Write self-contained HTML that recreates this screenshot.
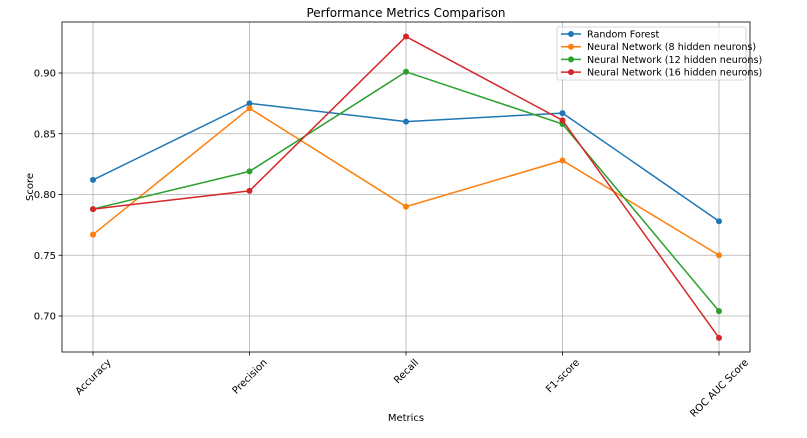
<!DOCTYPE html>
<html><head><meta charset="utf-8"><style>
body{margin:0;background:#fff;}
svg{font-family:"DejaVu Sans","Liberation Sans",sans-serif;}
</style></head><body>
<svg id="c" width="807" height="433"></svg>
<script>
const categories=["Accuracy","Precision","Recall","F1-score","ROC AUC Score"];
const seriesNames=["Random Forest","Neural Network (8 hidden neurons)","Neural Network (12 hidden neurons)","Neural Network (16 hidden neurons)"];
const rf=[0.812,0.875,0.860,0.867,0.778];
const nn8=[0.767,0.871,0.790,0.828,0.750];
const nn12=[0.788,0.819,0.901,0.858,0.704];
const nn16=[0.788,0.803,0.930,0.861,0.682];
const yTicks=[0.70,0.75,0.80,0.85,0.90];
const series=[rf,nn8,nn12,nn16];
const colors=["#1f77b4","#ff7f0e","#2ca02c","#d62728"];
const NS="http://www.w3.org/2000/svg";
const svg=document.getElementById('c');
const L=62,R=750,T=22,B=352;
const x=i=>93+i*(719-93)/(categories.length-1);
const y=v=>73+(0.90-v)/0.05*60.75;
function mk(t,a,p){const e=document.createElementNS(NS,t);for(const k in a)e.setAttribute(k,a[k]);(p||svg).appendChild(e);return e;}
yTicks.forEach(v=>{
 const g=mk('line',{x1:L,x2:R,y1:y(v),y2:y(v),stroke:'#b0b0b0','stroke-width':0.8});
 
 
 const tk=mk('line',{x1:L-3.5,x2:L,y1:y(v),y2:y(v),stroke:'#000','stroke-width':0.8});
 
 
 const t=mk('text',{x:L-6,y:y(v)+3.5,'text-anchor':'end','font-size':10});
 t.textContent=v.toFixed(2);
 
 
});
categories.forEach((c,i)=>{
 const g=mk('line',{x1:x(i),x2:x(i),y1:T,y2:B,stroke:'#b0b0b0','stroke-width':0.8});
 
 
 const tk=mk('line',{x1:x(i),x2:x(i),y1:B,y2:B+3.5,stroke:'#000','stroke-width':0.8});
 
 
 const t=mk('text',{x:0,y:0,'text-anchor':'middle','font-size':10});
 t.textContent=c;
 const len=t.getComputedTextLength();
 const cy=B+5+(len*0.707+7)/2;
 t.setAttribute('x',x(i));
 t.setAttribute('y',cy+3.5);
 t.setAttribute('transform',`rotate(-45 ${x(i)} ${cy})`);
 
 
});
series.forEach((s,k)=>{
 const pl=mk('polyline',{points:s.map((v,i)=>x(i)+','+y(v)).join(' '),fill:'none',stroke:colors[k],'stroke-width':1.5});
 
 
 s.forEach((v,i)=>{
  const c=mk('circle',{cx:x(i),cy:y(v),r:3,fill:colors[k]});
  
  
 });
});
const fr=mk('rect',{x:L,y:T,width:R-L,height:B-T,fill:'none',stroke:'#000','stroke-width':0.8});


const ti=mk('text',{x:(L+R)/2,y:17,'text-anchor':'middle','font-size':12});
ti.textContent='Performance Metrics Comparison';


const xt=mk('text',{x:(L+R)/2,y:421,'text-anchor':'middle','font-size':10});
xt.textContent='Metrics';


const yt=mk('text',{x:33,y:187,'text-anchor':'middle','font-size':10,transform:'rotate(-90 33 187)'});
yt.textContent='Score';


const lg=mk('g',{});


mk('rect',{x:557,y:27,width:189,height:53,rx:2,fill:'#fff','fill-opacity':0.8,stroke:'#ccc','stroke-width':0.8},lg);
seriesNames.forEach((n,k)=>{
 const yy=34+k*12.7;
 const e=mk('g',{},lg);
 
 
 mk('line',{x1:561,x2:581,y1:yy,y2:yy,stroke:colors[k],'stroke-width':1.5},e);
 mk('circle',{cx:571,cy:yy,r:3,fill:colors[k]},e);
 const t=mk('text',{x:587,y:yy+3.5,'font-size':9.6},e);
 t.textContent=n;
});
</script>
</body></html>
